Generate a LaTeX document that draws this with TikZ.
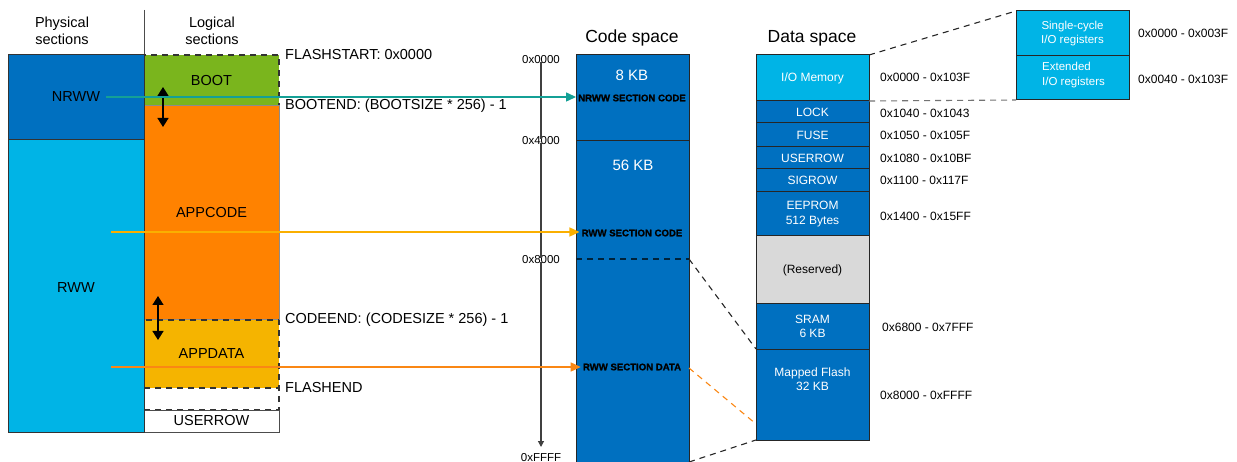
\documentclass[tikz,border=0pt]{standalone}
\usepackage{fontspec}
\setmainfont{Liberation Sans}
\newfontfamily\heavyfont[FakeBold=1.2]{Liberation Sans Bold}
\usetikzlibrary{arrows.meta}
\definecolor{dblue}{RGB}{0,112,192}
\definecolor{lblue}{RGB}{0,180,230}
\definecolor{bgreen}{RGB}{122,181,29}
\definecolor{borange}{RGB}{255,130,0}
\definecolor{bgold}{RGB}{245,180,0}
\definecolor{tealarr}{RGB}{20,160,150}
\definecolor{goldarr}{RGB}{250,175,0}
\definecolor{orgarr}{RGB}{250,135,20}
\definecolor{resgray}{RGB}{217,217,217}
\begin{document}
\begin{tikzpicture}[x=1pt,y=-1pt,
  box/.style={anchor=north west, inner sep=0pt, outer sep=0pt, line width=1pt},
  big/.style={font=\fontsize{14.5}{17}\selectfont, inner sep=1pt},
  title/.style={font=\fontsize{17.5}{20}\selectfont, inner sep=1pt},
  small/.style={font=\fontsize{12}{14.5}\selectfont, inner sep=1pt},
  tiny/.style={font=\fontsize{11.5}{14.5}\selectfont, inner sep=1pt},
  sec/.style={font=\heavyfont\fontsize{9.6}{11}\selectfont, inner sep=2pt},
  dashline/.style={dash pattern=on 6pt off 5pt, line width=1.1pt},
  dbl/.style={{Triangle[length=9pt,width=11pt]}-{Triangle[length=9pt,width=11pt]}, line width=1.3pt, black},
  feed/.style={line width=1.4pt, -{Triangle[length=10pt,width=9pt]}},
  hexl/.style={small, anchor=west}]
\useasboundingbox (0,0) rectangle (1237,462);

% headers
\node[big, align=center] (hphys) at (62,31) {Physical\\sections};
\node[big, align=center] (hlog) at (212,31) {Logical\\sections};
\coordinate (septop) at (144,10);
\coordinate (sepbot) at (144,55);
\draw[line width=1pt, black!70] (septop) -- (sepbot);

% logical sections
\node[box, fill=bgreen, draw=black!80, dashline, minimum width=135, minimum height=51] (boot) at (144,55) {};
\node[box, fill=borange, draw=black!45, minimum width=135, minimum height=214] (appcode) at (144,106) {};
\node[box, fill=bgold, draw=black!80, dashline, minimum width=135, minimum height=68] (appdata) at (144,320) {};
\node[box, fill=white, draw=black!80, dashline, minimum width=135, minimum height=22] (gap) at (144,388) {};
\node[box, fill=white, draw=black!70, minimum width=135, minimum height=22] (urow) at (144,410) {};
\draw[black!45, line width=1pt] (appcode.north east) -- (appcode.south east);
\node[big] (bootl) at (boot.center) {BOOT};
\node[big] (appcodel) at (appcode.center) {APPCODE};
\node[big] (appdatal) at (appdata.center) {APPDATA};
\node[big] (urowl) at (urow.center) {USERROW};

% physical sections
\node[box, fill=dblue, draw=black!80, minimum width=136, minimum height=85] (nrww) at (8,55) {};
\node[box, fill=lblue, draw=black!80, minimum width=136, minimum height=292] (rww) at (8,140) {};
\node[big] (nrwwl) at (76,97) {NRWW};
\node[big] (rwwl) at (76,288) {RWW};

% double arrows
\coordinate (da1) at (163,87);
\coordinate (da2) at (163,127);
\draw[dbl] (da1) -- (da2);
\coordinate (db1) at (158,296);
\coordinate (db2) at (158,340);
\draw[dbl] (db1) -- (db2);

% boundary labels
\node[big, anchor=west] (flashstart) at (284,55) {FLASHSTART: 0x0000};
\node[big, anchor=west] (bootend) at (284,106) {BOOTEND: (BOOTSIZE * 256) - 1};
\node[big, anchor=west] (codeend) at (284,320) {CODEEND: (CODESIZE * 256) - 1};
\node[big, anchor=west] (flashend) at (284,388) {FLASHEND};

% address axis
\node[tiny] (a0) at (541,60) {0x0000};
\node[tiny] (a4) at (541,141) {0x4000};
\node[tiny] (a8) at (541,260) {0x8000};
\node[tiny] (af) at (541,458) {0xFFFF};
\coordinate (axend) at (541,447);
\draw[line width=1.2pt, black!75] ([yshift=3pt]a0.south) -- ([yshift=-3pt]a4.north);
\draw[line width=1.2pt, black!75] ([yshift=3pt]a4.south) -- ([yshift=-3pt]a8.north);
\draw[line width=1.2pt, black!75, -{Triangle[length=6pt,width=6pt]}] ([yshift=3pt]a8.south) -- (axend);

% code space
\node[title] (codet) at (632,38) {Code space};
\node[box, fill=dblue, draw=black!85, minimum width=113, minimum height=86] (cs1) at (576,55) {};
\node[box, fill=dblue, draw=black!85, minimum width=113, minimum height=323] (cs2) at (576,141) {};
\coordinate (c8l) at (576,259);
\coordinate (c8r) at (689,259);
\draw[dashline, black!70!dblue] (c8l) -- (c8r);
\node[big, white, font=\fontsize{15}{17}\selectfont] (kb8) at (632,75) {8 KB};
\node[big, white, font=\fontsize{15}{17}\selectfont] (kb56) at (633,165) {56 KB};
\node[sec] (nrwwcode) at (632,98) {NRWW SECTION CODE};
\node[sec] (rwwcode) at (632,233) {RWW SECTION CODE};
\node[sec] (rwwdata) at (632,367) {RWW SECTION DATA};

% feeding arrows
\coordinate (s1) at (106,97);
\coordinate (s2) at (111,232);
\coordinate (s3) at (111,367);
\draw[feed, tealarr] (s1) -- (s1 -| nrwwcode.west);
\draw[feed, goldarr] (s2) -- (s2 -| rwwcode.west);
\draw[feed, orgarr] (s3) -- (s3 -| rwwdata.west);

% data space
\node[title] (datat) at (812,38) {Data space};
\node[box, fill=lblue, draw=black!85, minimum width=113, minimum height=46] (io) at (756,55) {};
\node[box, fill=dblue, draw=black!85, minimum width=113, minimum height=22] (lock) at (756,101) {};
\node[box, fill=dblue, draw=black!85, minimum width=113, minimum height=24] (fuse) at (756,123) {};
\node[box, fill=dblue, draw=black!85, minimum width=113, minimum height=22] (durow) at (756,147) {};
\node[box, fill=dblue, draw=black!85, minimum width=113, minimum height=23] (sigrow) at (756,169) {};
\node[box, fill=dblue, draw=black!85, minimum width=113, minimum height=44] (eeprom) at (756,192) {};
\node[box, fill=resgray, draw=black!85, minimum width=113, minimum height=68] (resv) at (756,236) {};
\node[box, fill=dblue, draw=black!85, minimum width=113, minimum height=45] (sram) at (756,304) {};
\node[box, fill=dblue, draw=black!85, minimum width=113, minimum height=91] (mflash) at (756,349) {};
\node[small, white] (iol) at (io.center) {I/O Memory};
\node[small, white] (lockl) at (lock.center) {LOCK};
\node[small, white] (fusel) at (fuse.center) {FUSE};
\node[small, white] (durowl) at (durow.center) {USERROW};
\node[small, white] (sigrowl) at (sigrow.center) {SIGROW};
\node[small, white, align=center] (eepl) at (eeprom.center) {EEPROM\\512 Bytes};
\node[small] (resl) at (resv.center) {(Reserved)};
\node[small, white, align=center] (sraml) at (sram.center) {SRAM\\6 KB};
\node[small, white, align=center] (mfl) at (812.5,379) {Mapped Flash\\32 KB};

\node[hexl] (h1) at (879,77) {0x0000 - 0x103F};
\node[hexl] (h2) at (879,113) {0x1040 - 0x1043};
\node[hexl] (h3) at (879,135) {0x1050 - 0x105F};
\node[hexl] (h4) at (879,158) {0x1080 - 0x10BF};
\node[hexl] (h5) at (879,180) {0x1100 - 0x117F};
\node[hexl] (h6) at (879,216) {0x1400 - 0x15FF};
\node[hexl] (h7) at (881,327) {0x6800 - 0x7FFF};
\node[hexl] (h8) at (879,395) {0x8000 - 0xFFFF};

% code -> data mapping lines
\coordinate (rdot) at (689,368);
\coordinate (mfo) at (756,424);
\coordinate (csbot) at (689,462);
\draw[dashline, black!85] (c8r) -- (mflash.north west);
\draw[dashline, orgarr] (rdot) -- (mfo);
\draw[dashline, black!85] (csbot) -- (mflash.south west);

% I/O zoom
\node[box, fill=lblue, draw=black!85, minimum width=113, minimum height=45] (sc) at (1016,11) {};
\node[box, fill=lblue, draw=black!85, minimum width=113, minimum height=44] (ext) at (1016,56) {};
\node[tiny, white, align=center] (scl) at (sc.center) {Single-cycle\\I/O registers};
\node[tiny, white, align=left, anchor=west] (extl) at (1041,75) {Extended\\I/O registers};
\node[hexl] (z1) at (1137,33) {0x0000 - 0x003F};
\node[hexl] (z2) at (1137,79) {0x0040 - 0x103F};
\draw[dashline, black!85] (io.north east) -- (sc.north west);
\draw[dashline, black!55] (io.south east) -- (ext.south west);
\end{tikzpicture}
\end{document}
